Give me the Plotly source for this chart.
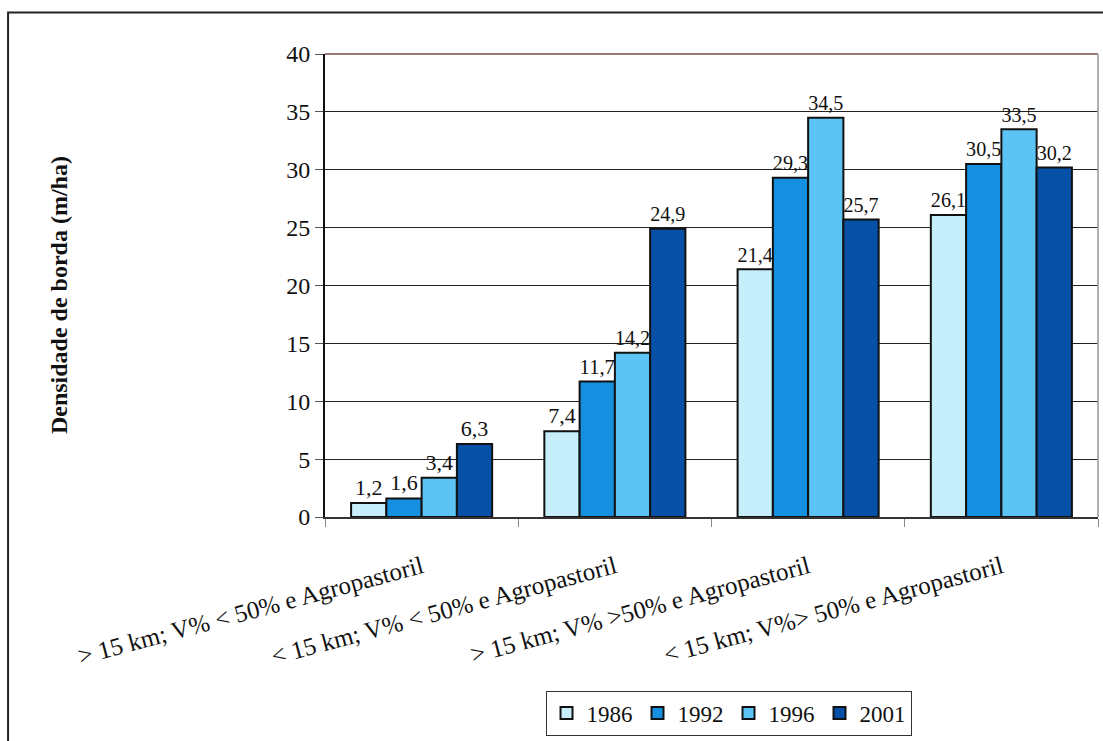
import plotly.graph_objects as go

# Edge density by landscape class and year
categories = [
    "&gt; 15 km; V% &lt; 50% e Agropastoril",
    "&lt; 15 km; V% &lt; 50% e Agropastoril",
    "&gt; 15 km; V% &gt;50% e Agropastoril",
    "&lt; 15 km; V%&gt; 50% e Agropastoril",
]
years = ["1986", "1992", "1996", "2001"]
values_1986 = [1.2, 7.4, 21.4, 26.1]
values_1992 = [1.6, 11.7, 29.3, 30.5]
values_1996 = [3.4, 14.2, 34.5, 33.5]
values_2001 = [6.3, 24.9, 25.7, 30.2]
y_ticks = [0, 5, 10, 15, 20, 25, 30, 35, 40]

series = [values_1986, values_1992, values_1996, values_2001]
colors = ["#c6eefb", "#1590e0", "#5cc4f4", "#0650a8"]

SERIF = "Liberation Serif"

fig = go.Figure()
for name, vals, col in zip(years, series, colors):
    fig.add_trace(go.Bar(
        name=name,
        x=categories,
        y=vals,
        marker=dict(color=col, line=dict(color="#111111", width=2)),
        text=[f"{v:.1f}".replace(".", ",") for v in vals],
        textposition="outside",
        textfont=dict(family=SERIF, size=22, color="#111111"),
        cliponaxis=False,
    ))

fig.update_layout(
    width=1103,
    height=741,
    margin=dict(l=325, r=5, t=54, b=219),
    paper_bgcolor="white",
    plot_bgcolor="white",
    barmode="group",
    bargap=0.27,
    bargroupgap=0,
    font=dict(family=SERIF, color="#111111"),
    showlegend=True,
    legend=dict(
        orientation="h",
        x=0.522, xanchor="center",
        y=-0.375, yanchor="top",
        bordercolor="#333333", borderwidth=1,
        font=dict(family=SERIF, size=23, color="#111111"),
        itemwidth=30,
        traceorder="normal",
    ),
    xaxis=dict(
        type="category",
        tickangle=-15,
        tickfont=dict(family=SERIF, size=25, color="#111111"),
        ticklabelstandoff=24,
        showline=True, linecolor="#333333", linewidth=2,
        ticks="outside", ticklen=8, tickcolor="#888888",
        tickson="boundaries",
        showgrid=False,
    ),
    yaxis=dict(
        range=[0, 40],
        tickvals=y_ticks,
        ticktext=[str(t) for t in y_ticks],
        tickfont=dict(family=SERIF, size=24, color="#111111"),
        showline=True, linecolor="#111111", linewidth=2,
        ticks="outside", ticklen=8, tickcolor="#555555",
        showgrid=True, gridcolor="#222222", gridwidth=1,
        zeroline=False,
    ),
    annotations=[dict(
        text="<b>Densidade de borda (m/ha)</b>",
        xref="paper", yref="paper",
        x=-0.345, y=0.48,
        xanchor="center", yanchor="middle",
        textangle=-90,
        showarrow=False,
        font=dict(family=SERIF, size=24, color="#111111"),
    )],
    shapes=[
        # outer frame around the whole chart
        dict(type="rect", xref="paper", yref="paper",
             x0=-0.410, x1=1.05, y0=-0.7, y1=1.0897,
             line=dict(color="#222222", width=2), layer="below"),
        # top edge of the plot area
        dict(type="line", xref="paper", yref="paper",
             x0=0, x1=1, y0=1, y1=1,
             line=dict(color="#7a4a4a", width=1.5)),
        # right edge of the plot area
        dict(type="line", xref="paper", yref="paper",
             x0=1, x1=1, y0=0, y1=1,
             line=dict(color="#999999", width=1.5)),
    ],
)

fig.write_html("out.html")
